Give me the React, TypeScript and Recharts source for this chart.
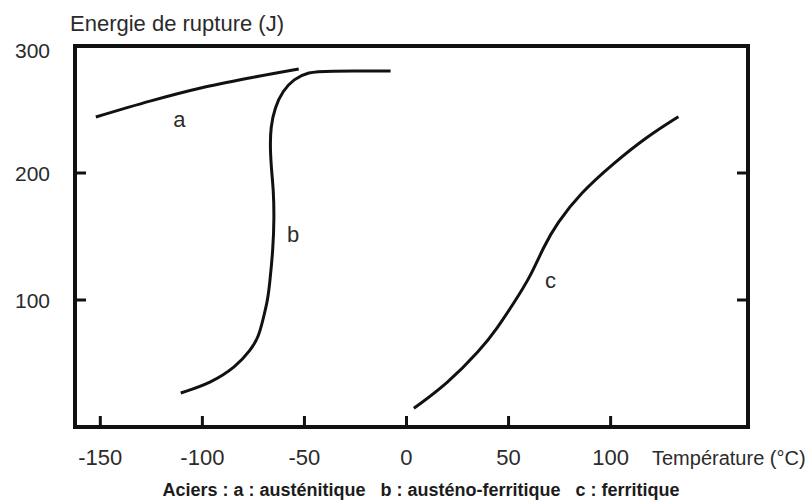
import { ComposedChart, Line, XAxis, YAxis, ReferenceDot, Label } from "recharts";

const INK = "#111";
const TEXT = "#2b2b2b";

// axis ticks
const tempTicks = [-150, -100, -50, 0, 50, 100];
const energyTicks = [100, 200, 300];
const rightTicks = [100, 200];

// a : austénitique
const austenitic = [
  { t: -152.2, e: 244.1 },
  { t: -125.2, e: 256.8 },
  { t: -100.8, e: 266.9 },
  { t: -76.3, e: 275.0 },
  { t: -52.8, e: 281.9 },
];

// b : austéno-ferritique (ordered bottom to top)
const duplex = [
  { t: -110.6, e: 26.8 },
  { t: -95.9, e: 34.6 },
  { t: -83.7, e: 47.2 },
  { t: -76.3, e: 60.6 },
  { t: -72.4, e: 70.9 },
  { t: -70.0, e: 86.6 },
  { t: -68.0, e: 100.0 },
  { t: -67.0, e: 113.4 },
  { t: -65.4, e: 139.4 },
  { t: -64.8, e: 165.4 },
  { t: -65.2, e: 186.6 },
  { t: -66.0, e: 200.0 },
  { t: -66.8, e: 218.1 },
  { t: -66.6, e: 236.2 },
  { t: -64.4, e: 252.0 },
  { t: -60.7, e: 264.5 },
  { t: -55.3, e: 274.0 },
  { t: -48.0, e: 279.5 },
  { t: -39.6, e: 280.3 },
  { t: -7.8, e: 280.4 },
];

// c : ferritique
const ferritic = [
  { t: 3.6, e: 14.7 },
  { t: 19.9, e: 33.9 },
  { t: 36.2, e: 60.6 },
  { t: 44.4, e: 77.7 },
  { t: 52.5, e: 97.4 },
  { t: 60.7, e: 118.3 },
  { t: 67.2, e: 142.0 },
  { t: 73.7, e: 160.4 },
  { t: 85.1, e: 184.0 },
  { t: 101.4, e: 207.6 },
  { t: 117.8, e: 228.6 },
  { t: 133.2, e: 244.3 },
];

const curveLabels = [
  { t: -111.3, e: 236.2, name: "a" },
  { t: -55.5, e: 145.7, name: "b" },
  { t: 70.5, e: 109.4, name: "c" },
];

const BottomTick = ({ x, y, payload }: any) => (
  <g>
    <line x1={x} y1={y} x2={x} y2={y - 11} stroke={INK} strokeWidth={3} />
    <text x={x} y={y + 38} textAnchor="middle" fontSize={22} fill={TEXT}>
      {payload.value}
    </text>
  </g>
);

const TopTick = ({ x, y }: any) => (
  <line x1={x} y1={y} x2={x} y2={y + 11} stroke={INK} strokeWidth={3} />
);

const LeftTick = ({ x, y, payload }: any) => (
  <g>
    <line x1={x} y1={y} x2={x + 11} y2={y} stroke={INK} strokeWidth={3} />
    <text
      x={x - 25}
      y={y + (payload.value === 300 ? 12 : 7.5)}
      textAnchor="end"
      fontSize={21}
      fill={TEXT}
    >
      {payload.value}
    </text>
  </g>
);

const RightTick = ({ x, y }: any) => (
  <line x1={x} y1={y} x2={x - 11} y2={y} stroke={INK} strokeWidth={3} />
);

const CurveName = ({ viewBox, value }: any) => (
  <text x={viewBox.x} y={viewBox.y} textAnchor="middle" fontSize={22} fill={TEXT}>
    {value}
  </text>
);

const axisLine = { stroke: INK, strokeWidth: 4, strokeLinecap: "square" as const };

export default function App() {
  return (
    <div
      style={{
        position: "absolute",
        left: 0,
        top: 0,
        width: 809,
        height: 502,
        background: "#fff",
        fontFamily: "'Liberation Sans', Arial, sans-serif",
      }}
    >
      <ComposedChart width={809} height={502} margin={{ top: 16, right: 31, bottom: 0, left: 0 }}>
        <XAxis
          dataKey="t"
          type="number"
          domain={[-162.4, 167.3]}
          ticks={tempTicks}
          allowDataOverflow
          height={75}
          tickSize={0}
          tickMargin={0}
          tickLine={false}
          axisLine={axisLine}
          tick={<BottomTick />}
        >
          <Label
            content={({ viewBox }: any) => (
              <text x={viewBox.x + viewBox.width - 96} y={viewBox.y + 38} fontSize={20} fill={TEXT}>
                Température (°C)
              </text>
            )}
          />
          <Label
            content={({ viewBox }: any) => (
              <text
                x={viewBox.x + 346}
                y={viewBox.y + 69}
                textAnchor="middle"
                fontSize={18}
                fontWeight="bold"
                fill="#1c1c1c"
              >
                {"Aciers : a : austénitique\u00a0\u00a0 b : austéno-ferritique\u00a0\u00a0 c : ferritique"}
              </text>
            )}
          />
        </XAxis>
        <XAxis
          xAxisId="top"
          orientation="top"
          type="number"
          domain={[-162.4, 167.3]}
          ticks={tempTicks}
          allowDataOverflow
          height={30}
          tickSize={0}
          tickMargin={0}
          tickLine={false}
          axisLine={axisLine}
          tick={<TopTick />}
        />
        <YAxis
          type="number"
          domain={[0, 300]}
          ticks={energyTicks}
          allowDataOverflow
          width={75}
          tickSize={0}
          tickMargin={0}
          tickLine={false}
          axisLine={axisLine}
          tick={<LeftTick />}
        >
          <Label
            content={({ viewBox }: any) => (
              <text x={viewBox.x + viewBox.width - 5} y={viewBox.y - 15} fontSize={22} fill={TEXT}>
                Energie de rupture (J)
              </text>
            )}
          />
        </YAxis>
        <YAxis
          yAxisId="right"
          orientation="right"
          type="number"
          domain={[0, 300]}
          ticks={rightTicks}
          allowDataOverflow
          width={30}
          tickSize={0}
          tickMargin={0}
          tickLine={false}
          axisLine={axisLine}
          tick={<RightTick />}
        />

        <Line
          data={austenitic}
          dataKey="e"
          type="monotone"
          stroke={INK}
          strokeWidth={3}
          dot={false}
          activeDot={false}
          isAnimationActive={false}
        />
        <Line
          data={duplex}
          dataKey="e"
          type="basis"
          stroke={INK}
          strokeWidth={3}
          dot={false}
          activeDot={false}
          isAnimationActive={false}
        />
        <Line
          data={ferritic}
          dataKey="e"
          type="basis"
          stroke={INK}
          strokeWidth={3}
          dot={false}
          activeDot={false}
          isAnimationActive={false}
        />

        {curveLabels.map((c) => (
          <ReferenceDot
            key={c.name}
            x={c.t}
            y={c.e}
            r={0}
            fill="none"
            stroke="none"
            label={<CurveName value={c.name} />}
          />
        ))}
      </ComposedChart>
    </div>
  );
}
